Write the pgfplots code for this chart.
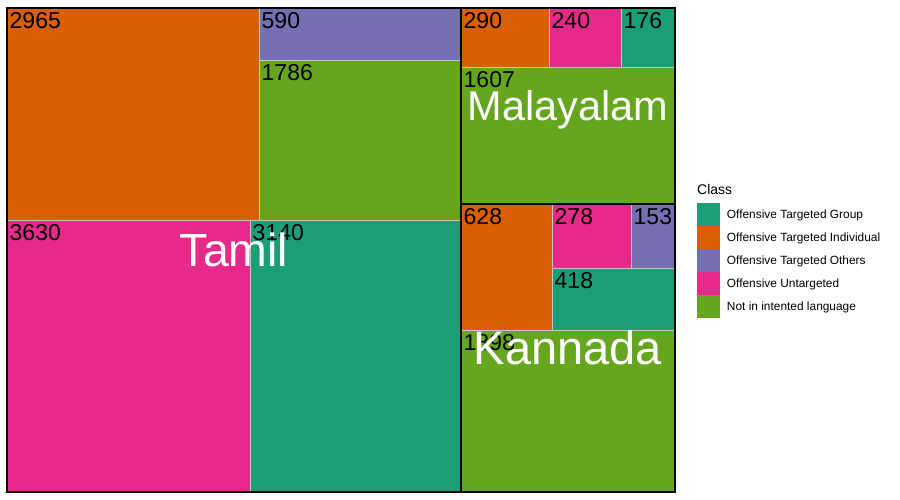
\documentclass[border=0pt]{standalone}
\usepackage{fontspec}
\setmainfont{Liberation Sans}
\usepackage{pgfplots}
\pgfplotsset{compat=1.18}
\definecolor{cGroup}{HTML}{1B9E77}
\definecolor{cInd}{HTML}{D95F02}
\definecolor{cOth}{HTML}{7570B3}
\definecolor{cUnt}{HTML}{E7298A}
\definecolor{cNot}{HTML}{66A61E}
% tile: x1 y1 x2 y2 colour label (pixel units, y downward)
\newcommand\tile[6]{%
  \addplot[forget plot, fill=#5, draw=gray!45, line width=0.8pt] coordinates {(#1,#2) (#3,#2) (#3,#4) (#1,#4)} --cycle;
  \node[anchor=north west, inner sep=0pt, xshift=2.5pt, yshift=-4.5pt, font=\fontsize{23}{23}\selectfont] at (axis cs:#1,#2) {#6};
}
% group: x1 y1 x2 y2 label fontsize
\newcommand\group[6]{%
  \addplot[forget plot, draw=black, line width=2.8pt, fill=none] coordinates {(#1,#2) (#3,#2) (#3,#4) (#1,#4)} --cycle;
  \node[anchor=base, inner sep=0pt, text=white, font=\fontsize{#6}{#6}\selectfont] at (axis cs:{(#1+#3)/2},{(#2+#4)/2+0.36*#6}) {#5};
}
\begin{document}
\begin{tikzpicture}
\begin{axis}[
  width=900pt, height=500pt, scale only axis,
  xmin=0, xmax=900, ymin=0, ymax=500, y dir=reverse,
  hide axis, clip=false,
  legend image code/.code={\path[#1] (0pt,-11.5pt) rectangle (23pt,11.5pt);},
  legend style={at={(0.7744,0.594)}, anchor=north west, draw=none, fill=none,
    inner sep=0pt, outer sep=0pt, row sep=0pt,
    font=\fontsize{11.9}{13}\selectfont, nodes={inner sep=0pt},
    /tikz/every odd column/.append style={column sep=7pt}},
  legend cell align=left,
]
\path (axis cs:0,0) rectangle (axis cs:900,500);
% Tamil
\tile{7}{8}{259}{220}{cInd}{2965}
\tile{259}{8}{461}{60}{cOth}{590}
\tile{259}{60}{461}{220}{cNot}{1786}
\tile{7}{220}{250}{492}{cUnt}{3630}
\tile{250}{220}{461}{492}{cGroup}{3140}
% Malayalam
\tile{461}{8}{549}{67}{cInd}{290}
\tile{549}{8}{621}{67}{cUnt}{240}
\tile{621}{8}{675}{67}{cGroup}{176}
\tile{461}{67}{675}{204}{cNot}{1607}
% Kannada
\tile{461}{204}{552}{330}{cInd}{628}
\tile{552}{204}{631}{268}{cUnt}{278}
\tile{631}{204}{675}{268}{cOth}{153}
\tile{552}{268}{675}{330}{cGroup}{418}
\tile{461}{330}{675}{492}{cNot}{1898}
% groups
\group{7}{8}{461}{492}{Tamil}{46.5}
\group{461}{8}{675}{204}{Malayalam}{41.5}
\group{461}{204}{675}{492}{Kannada}{47}
% legend
\node[anchor=base west, inner sep=0pt, font=\fontsize{14}{14}\selectfont] at (axis cs:697,194) {Class};
\addlegendimage{fill=cGroup, draw=none}
\addlegendentry{Offensive Targeted Group}
\addlegendimage{fill=cInd, draw=none}
\addlegendentry{Offensive Targeted Individual}
\addlegendimage{fill=cOth, draw=none}
\addlegendentry{Offensive Targeted Others}
\addlegendimage{fill=cUnt, draw=none}
\addlegendentry{Offensive Untargeted}
\addlegendimage{fill=cNot, draw=none}
\addlegendentry{Not in intented language}
\end{axis}
\end{tikzpicture}
\end{document}
